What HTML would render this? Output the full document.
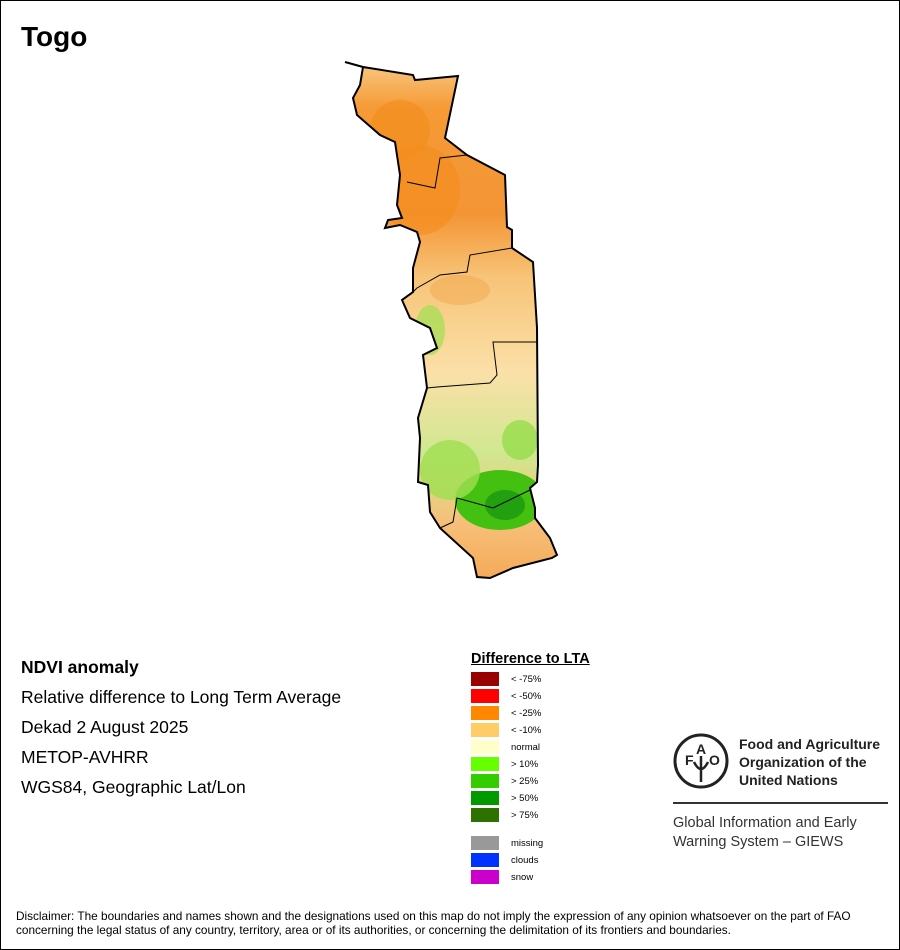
<!DOCTYPE html>
<html><head><style>
body{margin:0;background:#fff}
#w{position:relative;width:898px;height:948px;border:1px solid #000;overflow:hidden;font-family:"Liberation Sans",sans-serif;color:#000}
.t{position:absolute;white-space:nowrap}
.l{position:absolute;left:20px;font-size:17.5px}
.b{position:absolute;left:470px;width:28px;height:14px}
.bl{position:absolute;left:510px;font-size:9.5px}
</style></head><body><div id="w">
<div class="t" style="left:20px;top:20px;font-size:28px;font-weight:bold">Togo</div>
<svg width="900" height="950" style="position:absolute;left:-1px;top:-1px">
<defs>
<clipPath id="c"><polygon id="p" points="345,62 363,67 413,75 415,80 458,76 445,138 467,155 505,175 507,227 512,230 512,248 533,262 537,328 538,465 537,482 530,488 535,508 535,518 550,538 557,555 552,558 513,568 490,578 477,577 473,558 440,528 430,512 428,485 418,482 420,438 418,418 427,388 423,355 437,348 430,328 410,318 402,300 413,292 413,268 420,242 417,232 400,225 385,228 388,220 402,218 397,205 400,175 395,142 380,135 357,115 353,98 360,85 363,67"/></clipPath>
<linearGradient id="g" x1="0" y1="0" x2="0" y2="1">
<stop offset="0" stop-color="#f9d090"/><stop offset="0.1" stop-color="#f59a35"/><stop offset="0.3" stop-color="#f49535"/><stop offset="0.42" stop-color="#f7c478"/><stop offset="0.6" stop-color="#fbe0a8"/><stop offset="0.75" stop-color="#d0e890"/><stop offset="0.88" stop-color="#f6c07a"/><stop offset="1" stop-color="#f4a855"/></linearGradient>
</defs>
<g clip-path="url(#c)">
<rect x="330" y="55" width="240" height="530" fill="url(#g)"/>
<ellipse cx="500" cy="500" rx="45" ry="30" fill="#44c010"/>
<ellipse cx="505" cy="505" rx="20" ry="15" fill="#22a010"/>
<ellipse cx="450" cy="470" rx="30" ry="30" fill="#9fdf50" opacity=".8"/>
<ellipse cx="430" cy="330" rx="15" ry="25" fill="#9fdf50" opacity=".7"/>
<ellipse cx="520" cy="440" rx="18" ry="20" fill="#8fdc40" opacity=".7"/>
<ellipse cx="420" cy="190" rx="40" ry="45" fill="#f48c1a" opacity=".6"/>
<ellipse cx="400" cy="130" rx="30" ry="30" fill="#f48c1a" opacity=".6"/>
<ellipse cx="460" cy="290" rx="30" ry="15" fill="#f2a850" opacity=".5"/>
</g>
<use href="#p" fill="none" stroke="#000" stroke-width="2"/>
<g fill="none" stroke="#000" stroke-width="1">
<polyline points="467,155 440,158 435,188 407,182"/>
<polyline points="512,248 470,255 467,272 440,275 417,288 410,295"/>
<polyline points="537,342 493,342 497,375 490,383 437,387 427,388"/>
<polyline points="530,490 493,508 457,498 453,522 440,528"/>
</g>
</svg>
<div class="l" style="top:656px;font-weight:bold">NDVI anomaly</div>
<div class="l" style="top:686px">Relative difference to Long Term Average</div>
<div class="l" style="top:716px">Dekad 2 August 2025</div>
<div class="l" style="top:746px">METOP-AVHRR</div>
<div class="l" style="top:776px">WGS84, Geographic Lat/Lon</div>
<div class="t" style="left:470px;top:650px;font-size:14.5px;font-weight:bold;text-decoration:underline">Difference to LTA</div>
<div class="b" style="top:671px;background:#990000"></div><div class="bl" style="top:673px">&lt; -75%</div>
<div class="b" style="top:688px;background:#ff0000"></div><div class="bl" style="top:690px">&lt; -50%</div>
<div class="b" style="top:705px;background:#ff8800"></div><div class="bl" style="top:707px">&lt; -25%</div>
<div class="b" style="top:722px;background:#ffcc66"></div><div class="bl" style="top:724px">&lt; -10%</div>
<div class="b" style="top:739px;background:#ffffcc"></div><div class="bl" style="top:741px">normal</div>
<div class="b" style="top:756px;background:#66ff00"></div><div class="bl" style="top:758px">&gt; 10%</div>
<div class="b" style="top:773px;background:#33cc00"></div><div class="bl" style="top:775px">&gt; 25%</div>
<div class="b" style="top:790px;background:#009900"></div><div class="bl" style="top:792px">&gt; 50%</div>
<div class="b" style="top:807px;background:#2d7200"></div><div class="bl" style="top:809px">&gt; 75%</div>
<div class="b" style="top:835px;background:#999999"></div><div class="bl" style="top:837px">missing</div>
<div class="b" style="top:852px;background:#0033ff"></div><div class="bl" style="top:854px">clouds</div>
<div class="b" style="top:869px;background:#cc00cc"></div><div class="bl" style="top:871px">snow</div>
<svg width="60" height="60" style="position:absolute;left:671px;top:731px" viewBox="0 0 60 60">
<circle cx="29" cy="29" r="26" fill="none" stroke="#222" stroke-width="3"/>
<text x="13" y="33" font-size="14" font-weight="bold" font-family="Liberation Sans" fill="#222">F</text>
<text x="24" y="22" font-size="14" font-weight="bold" font-family="Liberation Sans" fill="#222">A</text>
<text x="37" y="33" font-size="14" font-weight="bold" font-family="Liberation Sans" fill="#222">O</text>
<path d="M29 24 V50 M22 30 Q29 44 36 30" stroke="#222" stroke-width="2.5" fill="none"/>
</svg>
<div class="t" style="left:738px;top:734px;font-size:14px;font-weight:bold;line-height:18px;color:#222">Food and Agriculture<br>Organization of the<br>United Nations</div>
<div style="position:absolute;left:672px;top:801px;width:215px;height:2px;background:#333"></div>
<div class="t" style="left:672px;top:813px;font-size:14.5px;line-height:19px;color:#333">Global Information and Early<br>Warning System – GIEWS</div>
<div class="t" style="left:15px;top:908px;font-size:11.8px;line-height:14px">Disclaimer: The boundaries and names shown and the designations used on this map do not imply the expression of any opinion whatsoever on the part of FAO<br>concerning the legal status of any country, territory, area or of its authorities, or concerning the delimitation of its frontiers and boundaries.</div>
</div></body></html>
